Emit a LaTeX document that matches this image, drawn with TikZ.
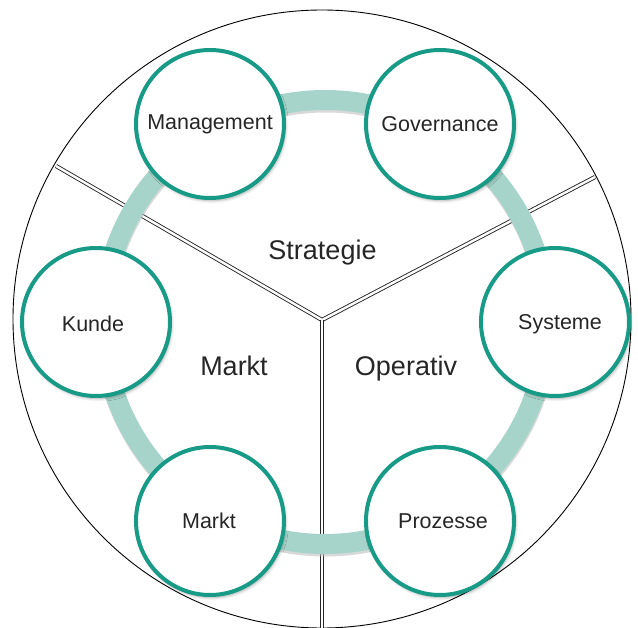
\documentclass[tikz,border=0pt]{standalone}
\usepackage{fontspec}
\setmainfont{Liberation Sans}
\usetikzlibrary{shadows.blur}
\definecolor{ringteal}{HTML}{179A86}
\definecolor{bandteal}{HTML}{A7D4CA}
\begin{document}
\begin{tikzpicture}[x=1pt,y=-1pt,
  divider/.style={draw=black!85,line width=0.9pt,double=white,double distance=2.4pt},
  topic/.style={circle,draw=ringteal,line width=4pt,fill=white,minimum size=148pt,inner sep=0pt,
    font=\fontsize{21.5}{24}\selectfont,text=black!85,
    blur shadow={shadow xshift=1.5pt,shadow yshift=-2.5pt,shadow blur radius=3pt,shadow opacity=35}},
  area/.style={font=\fontsize{27}{30}\selectfont,text=black!85,inner sep=0pt}]
\useasboundingbox (0,0) rectangle (638,628);
% outer disc
\draw[line width=0.9pt] (322,319) circle[radius=309];
% Y-shaped separators
\coordinate (hub) at (322,320);
\coordinate (endL) at (56,166);
\coordinate (endR) at (595,177);
\coordinate (endB) at (322,630);
\draw[divider] (endL) -- (hub) -- (endR);
\draw[divider] (hub) -- (endB);
% connecting ring
\draw[black!25,line width=20pt,opacity=0.6] (325.5,324.5) circle[radius=222];
\draw[bandteal,line width=20pt] (325,322) circle[radius=222];
% topic circles
\node[topic] (mgmt) at (210,124) {};
\node[topic] (gov)  at (440,124) {};
\node[topic] (kunde) at (96,322) {};
\node[topic] (sys) at (555,322) {};
\node[topic] (markt) at (210,521) {};
\node[topic] (proz) at (440,521) {};
\node[font=\fontsize{21.5}{24}\selectfont,text=black!85] at (mgmt.center) {Management};
\node[font=\fontsize{21.5}{24}\selectfont,text=black!85] at (gov.center) {Governance};
\node[font=\fontsize{21.5}{24}\selectfont,text=black!85] at ([xshift=-3pt,yshift=-2pt]kunde.center) {Kunde};
\node[font=\fontsize{21.5}{24}\selectfont,text=black!85] at ([xshift=5pt,yshift=-2pt]sys.center) {Systeme};
\node[font=\fontsize{21.5}{24}\selectfont,text=black!85] at ([xshift=-1pt]markt.center) {Markt};
\node[font=\fontsize{21.5}{24}\selectfont,text=black!85] at ([xshift=3pt]proz.center) {Prozesse};
% segment labels
\node[area,anchor=base] (lstrat) at (322.5,260) {Strategie};
\node[area,anchor=base] (lmarkt) at (234,376) {Markt};
\node[area,anchor=base] (lop) at (406,376) {Operativ};
\end{tikzpicture}
\end{document}
